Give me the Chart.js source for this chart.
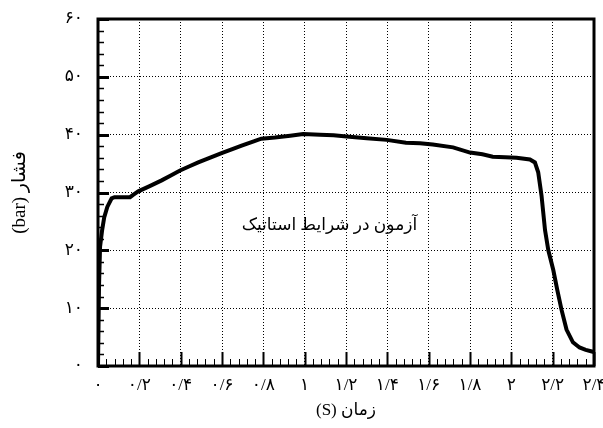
<!DOCTYPE html>
<html>
<head>
<meta charset="utf-8">
<script src="https://cdn.jsdelivr.net/npm/chart.js@4/dist/chart.umd.min.js"></script>
<style>
  html, body { margin: 0; padding: 0; background: #fff; }
  #wrap { width: 603px; height: 428px; }
</style>
</head>
<body>
<div id="wrap"><canvas id="chartPressure"></canvas></div>
<script>
// time (s) and pressure (bar)
const times = [0, 0.005, 0.01, 0.02, 0.03, 0.045, 0.066, 0.08, 0.12, 0.155, 0.17, 0.195,
    0.25, 0.308, 0.35, 0.397, 0.44, 0.485, 0.54, 0.598, 0.65, 0.695, 0.75, 0.79, 0.856,
    0.93, 0.993, 1.074, 1.14, 1.203, 1.3, 1.397, 1.49, 1.558, 1.62, 1.718, 1.8, 1.86,
    1.91, 1.97, 2.025, 2.09, 2.114, 2.13, 2.146, 2.163, 2.179, 2.203, 2.222, 2.243,
    2.267, 2.298, 2.33, 2.36, 2.39, 2.4];
const pressures = [0, 14, 20.6, 23.5, 25.7, 27.5, 29, 29.2, 29.2, 29.2, 29.6, 30.2,
    31.1, 32.1, 32.9, 33.8, 34.5, 35.2, 36.0, 36.8, 37.5, 38.1, 38.8, 39.3, 39.5,
    39.8, 40.1, 40.0, 39.9, 39.7, 39.4, 39.1, 38.6, 38.5, 38.3, 37.8, 36.9, 36.6,
    36.2, 36.1, 36.0, 35.7, 35.2, 33.5, 29.5, 23.5, 20, 16.6, 13.2, 9.7,
    6.3, 4.1, 3.2, 2.8, 2.5, 2.4];

const xTitle = "(S) زمان";
const yTitle = "(bar) فشار";
const noteText = "آزمون در شرایط استاتیک";
const notePos = [1.12, 24.3];

const faDigits = "۰۱۲۳۴۵۶۷۸۹";
function toFa(v) {
    const s = String(Math.round(v * 10) / 10);
    return s.replace(/\d/g, d => faDigits[d]).replace(".", "/");
}

const fontFam = "'Liberation Serif', 'DejaVu Serif', 'DejaVu Sans', serif";

// ticks pointing into the plot, plus the frame and the note
const framePlugin = {
    id: "frame",
    afterDraw(chart) {
        const { ctx, chartArea: a, scales: { x, y } } = chart;
        ctx.save();
        ctx.strokeStyle = "#000";
        ctx.lineCap = "butt";
        for (let i = 0; i <= 60; i++) {
            const v = i * 0.04;
            const px = Math.round(x.getPixelForValue(v)) + 0.5;
            const major = i % 5 === 0;
            ctx.lineWidth = major ? 2 : 1;
            ctx.beginPath();
            ctx.moveTo(px, a.bottom);
            ctx.lineTo(px, a.bottom - (major ? 14 : 7));
            ctx.stroke();
        }
        for (let i = 0; i <= 30; i++) {
            const v = i * 2;
            const py = Math.round(y.getPixelForValue(v)) + 0.5;
            const major = i % 5 === 0;
            ctx.lineWidth = major ? 3 : 1.5;
            ctx.beginPath();
            ctx.moveTo(a.left, py);
            ctx.lineTo(a.left + (major ? 11 : 6), py);
            ctx.stroke();
        }
        ctx.lineWidth = 3;
        ctx.strokeRect(a.left, a.top, a.right - a.left, a.bottom - a.top);

        ctx.fillStyle = "#000";
        ctx.font = "17px " + fontFam;
        ctx.textAlign = "center";
        ctx.textBaseline = "middle";
        ctx.fillText(noteText, x.getPixelForValue(notePos[0]), y.getPixelForValue(notePos[1]));
        ctx.restore();
    }
};

window.onload = () => {
    new Chart(document.getElementById("chartPressure"), {
        type: "line",
        data: {
            datasets: [{
                data: times.map((t, i) => ({ x: t, y: pressures[i] })),
                borderColor: "#000",
                borderWidth: 4,
                pointRadius: 0,
                tension: 0,
                fill: false
            }]
        },
        options: {
            responsive: true,
            maintainAspectRatio: false,
            animation: false,
            layout: { padding: { top: 19, right: 9, left: 0, bottom: 0 } },
            plugins: { legend: { display: false }, tooltip: { enabled: false } },
            scales: {
                x: {
                    type: "linear",
                    min: 0, max: 2.4,
                    afterFit: s => { s.height = 62; s.paddingRight = 0; s.paddingLeft = 0; },
                    ticks: {
                        stepSize: 0.2,
                        color: "#000",
                        padding: 9,
                        maxRotation: 0,
                        font: { family: fontFam, size: 17 },
                        callback: v => toFa(v)
                    },
                    grid: { color: "#000", lineWidth: 1, drawTicks: false },
                    border: { display: false, dash: [1, 2] },
                    title: {
                        display: true, text: xTitle, color: "#000",
                        font: { family: fontFam, size: 17 },
                        padding: { top: 0, bottom: 7 }
                    }
                },
                y: {
                    min: 0, max: 60,
                    afterFit: s => { s.width = 98; s.paddingTop = 0; s.paddingBottom = 0; },
                    ticks: {
                        stepSize: 10,
                        color: "#000",
                        padding: 15,
                        font: { family: fontFam, size: 17 },
                        callback: v => toFa(v)
                    },
                    grid: { color: "#000", lineWidth: 1, drawTicks: false },
                    border: { display: false, dash: [1, 2] },
                    title: {
                        display: true, text: yTitle, color: "#000",
                        font: { family: fontFam, size: 19 },
                        padding: { top: 9, bottom: 0 }
                    }
                }
            }
        },
        plugins: [framePlugin]
    });
};
</script>
</body>
</html>
